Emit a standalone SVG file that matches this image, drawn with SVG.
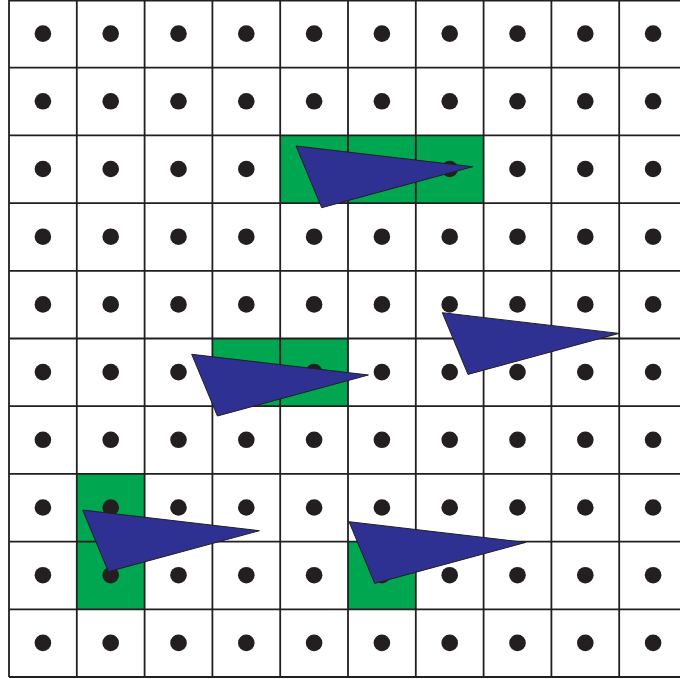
<svg xmlns="http://www.w3.org/2000/svg" width="680" height="679" viewBox="0 0 680 679">
<defs>
<style>
.g{fill:#00a650}
.ln{stroke:#231f20;stroke-width:1.8;fill:none}
.d{fill:#231f20}
.t{fill:#2e3192;stroke:#231f20;stroke-width:1;stroke-linejoin:miter}
</style>
<circle id="dot" r="8.3" class="d"/>
<polygon id="tri" class="t" points="0,0 176.7,20.7 25.7,61.7"/>
</defs>
<rect width="680" height="679" fill="#fff"/>
<g id="green">
<rect class="g" x="280.2" y="135.4" width="203.4" height="67.7"/>
<rect class="g" x="212.4" y="338.5" width="135.6" height="67.7"/>
<rect class="g" x="76.8" y="473.9" width="67.8" height="135.4"/>
<rect class="g" x="348" y="541.6" width="67.8" height="67.7"/>
</g>
<g id="grid" class="ln">
<path d="M9,0V677M76.8,0V677M144.6,0V677M212.4,0V677M280.2,0V677M348,0V677M415.8,0V677M483.6,0V677M551.4,0V677M619.2,0V677"/>
<path d="M9,0.6H680M9,67.7H680M9,135.4H680M9,203.1H680M9,270.8H680M9,338.5H680M9,406.2H680M9,473.9H680M9,541.6H680M9,609.3H680M9,677H680"/>
</g>
<g id="dots">
<g transform="translate(42.9,33.6)"><use href="#dot" x="0"/><use href="#dot" x="67.8"/><use href="#dot" x="135.6"/><use href="#dot" x="203.4"/><use href="#dot" x="271.2"/><use href="#dot" x="339"/><use href="#dot" x="406.8"/><use href="#dot" x="474.6"/><use href="#dot" x="542.4"/><use href="#dot" x="610.2"/></g>
<g transform="translate(42.9,101.3)"><use href="#dot" x="0"/><use href="#dot" x="67.8"/><use href="#dot" x="135.6"/><use href="#dot" x="203.4"/><use href="#dot" x="271.2"/><use href="#dot" x="339"/><use href="#dot" x="406.8"/><use href="#dot" x="474.6"/><use href="#dot" x="542.4"/><use href="#dot" x="610.2"/></g>
<g transform="translate(42.9,169)"><use href="#dot" x="0"/><use href="#dot" x="67.8"/><use href="#dot" x="135.6"/><use href="#dot" x="203.4"/><use href="#dot" x="271.2"/><use href="#dot" x="339"/><use href="#dot" x="406.8"/><use href="#dot" x="474.6"/><use href="#dot" x="542.4"/><use href="#dot" x="610.2"/></g>
<g transform="translate(42.9,236.7)"><use href="#dot" x="0"/><use href="#dot" x="67.8"/><use href="#dot" x="135.6"/><use href="#dot" x="203.4"/><use href="#dot" x="271.2"/><use href="#dot" x="339"/><use href="#dot" x="406.8"/><use href="#dot" x="474.6"/><use href="#dot" x="542.4"/><use href="#dot" x="610.2"/></g>
<g transform="translate(42.9,304.4)"><use href="#dot" x="0"/><use href="#dot" x="67.8"/><use href="#dot" x="135.6"/><use href="#dot" x="203.4"/><use href="#dot" x="271.2"/><use href="#dot" x="339"/><use href="#dot" x="406.8"/><use href="#dot" x="474.6"/><use href="#dot" x="542.4"/><use href="#dot" x="610.2"/></g>
<g transform="translate(42.9,372.1)"><use href="#dot" x="0"/><use href="#dot" x="67.8"/><use href="#dot" x="135.6"/><use href="#dot" x="203.4"/><use href="#dot" x="271.2"/><use href="#dot" x="339"/><use href="#dot" x="406.8"/><use href="#dot" x="474.6"/><use href="#dot" x="542.4"/><use href="#dot" x="610.2"/></g>
<g transform="translate(42.9,439.8)"><use href="#dot" x="0"/><use href="#dot" x="67.8"/><use href="#dot" x="135.6"/><use href="#dot" x="203.4"/><use href="#dot" x="271.2"/><use href="#dot" x="339"/><use href="#dot" x="406.8"/><use href="#dot" x="474.6"/><use href="#dot" x="542.4"/><use href="#dot" x="610.2"/></g>
<g transform="translate(42.9,507.5)"><use href="#dot" x="0"/><use href="#dot" x="67.8"/><use href="#dot" x="135.6"/><use href="#dot" x="203.4"/><use href="#dot" x="271.2"/><use href="#dot" x="339"/><use href="#dot" x="406.8"/><use href="#dot" x="474.6"/><use href="#dot" x="542.4"/><use href="#dot" x="610.2"/></g>
<g transform="translate(42.9,575.2)"><use href="#dot" x="0"/><use href="#dot" x="67.8"/><use href="#dot" x="135.6"/><use href="#dot" x="203.4"/><use href="#dot" x="271.2"/><use href="#dot" x="339"/><use href="#dot" x="406.8"/><use href="#dot" x="474.6"/><use href="#dot" x="542.4"/><use href="#dot" x="610.2"/></g>
<g transform="translate(42.9,642.9)"><use href="#dot" x="0"/><use href="#dot" x="67.8"/><use href="#dot" x="135.6"/><use href="#dot" x="203.4"/><use href="#dot" x="271.2"/><use href="#dot" x="339"/><use href="#dot" x="406.8"/><use href="#dot" x="474.6"/><use href="#dot" x="542.4"/><use href="#dot" x="610.2"/></g>
</g>
<g id="triangles">
<use href="#tri" x="296" y="146"/>
<use href="#tri" x="191.7" y="354.3"/>
<use href="#tri" x="442.3" y="312.7"/>
<use href="#tri" x="82.7" y="510"/>
<use href="#tri" x="349" y="521.7"/>
</g>
</svg>
